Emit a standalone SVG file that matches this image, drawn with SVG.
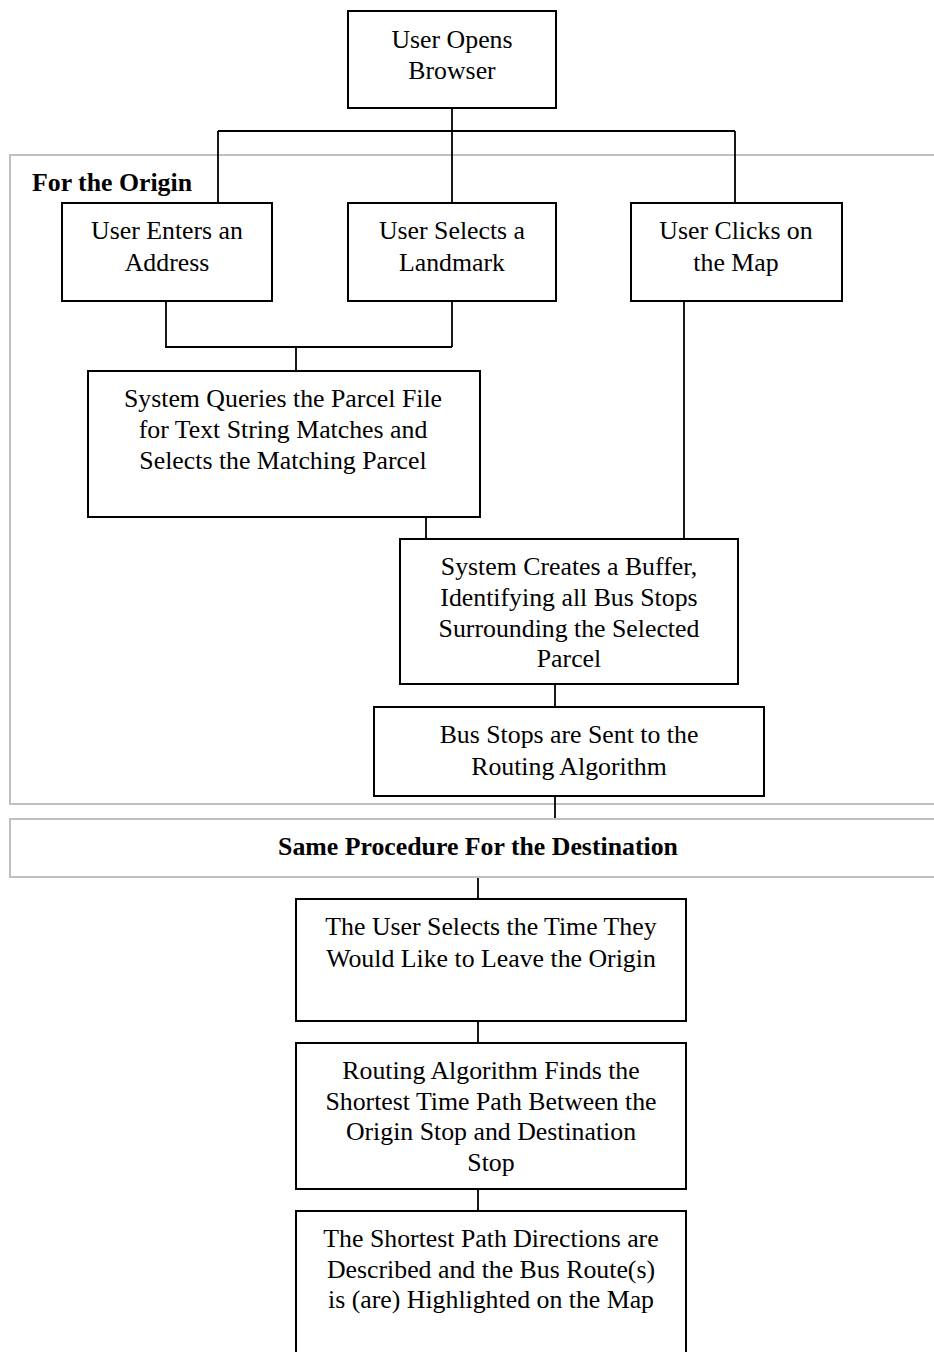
<svg xmlns="http://www.w3.org/2000/svg" width="934" height="1352" viewBox="0 0 934 1352">
<style>
.bg{fill:#ffffff}
.grp{fill:none;stroke:#c0c0c0;stroke-width:2}
.box{fill:#ffffff;stroke:#000000;stroke-width:2}
.con{fill:none;stroke:#000000;stroke-width:1.8}
text{font-family:"Liberation Serif","Times New Roman",serif;font-size:25.8px;fill:#000000;text-anchor:middle}
.b{font-weight:bold}
</style>
<rect class="bg" x="0" y="0" width="934" height="1352"/>
<g id="group-origin">
<rect class="grp" x="10" y="155" width="940" height="649"/>
<text class="b" x="32" y="190.5" style="text-anchor:start">For the Origin</text>
</g>
<g id="connectors">
<path class="con" d="M452 108 V131 M218 131 H735 M218 131 V203 M452 131 V203 M735 131 V203"/>
<path class="con" d="M166 301 V347 H452 M452 301 V347 M296 347 V371"/>
<path class="con" d="M426 517 V539"/>
<path class="con" d="M684 301 V539"/>
<path class="con" d="M555 684 V707"/>
<path class="con" d="M555 796 V819"/>
<path class="con" d="M478 877 V899"/>
<path class="con" d="M478 1021 V1043"/>
<path class="con" d="M478 1189 V1211"/>
</g>
<g id="n-open">
<rect class="box" x="348" y="11" width="208" height="97"/>
<text x="452" y="47.5">User Opens</text>
<text x="452" y="79">Browser</text>
</g>
<g id="n-address">
<rect class="box" x="62" y="203" width="210" height="98"/>
<text x="167" y="239">User Enters an</text>
<text x="167" y="270.5">Address</text>
</g>
<g id="n-landmark">
<rect class="box" x="348" y="203" width="208" height="98"/>
<text x="452" y="239">User Selects a</text>
<text x="452" y="270.5">Landmark</text>
</g>
<g id="n-map">
<rect class="box" x="631" y="203" width="211" height="98"/>
<text x="736" y="239">User Clicks on</text>
<text x="736" y="270.5">the Map</text>
</g>
<g id="n-parcel">
<rect class="box" x="88" y="371" width="392" height="146"/>
<text x="283" y="407">System Queries the Parcel File</text>
<text x="283" y="437.5">for Text String Matches and</text>
<text x="283" y="468.5">Selects the Matching Parcel</text>
</g>
<g id="n-buffer">
<rect class="box" x="400" y="539" width="338" height="145"/>
<text x="569" y="575">System Creates a Buffer,</text>
<text x="569" y="605.5">Identifying all Bus Stops</text>
<text x="569" y="636.5">Surrounding the Selected</text>
<text x="569" y="667">Parcel</text>
</g>
<g id="n-busstops">
<rect class="box" x="374" y="707" width="390" height="89"/>
<text x="569" y="743">Bus Stops are Sent to the</text>
<text x="569" y="774.5">Routing Algorithm</text>
</g>
<g id="group-destination">
<rect class="grp" x="10" y="819" width="940" height="58"/>
<text class="b" x="478" y="854.5">Same Procedure For the Destination</text>
</g>
<g id="n-time">
<rect class="box" x="296" y="899" width="390" height="122"/>
<text x="491" y="935">The User Selects the Time They</text>
<text x="491" y="966.5">Would Like to Leave the Origin</text>
</g>
<g id="n-routing">
<rect class="box" x="296" y="1043" width="390" height="146"/>
<text x="491" y="1079">Routing Algorithm Finds the</text>
<text x="491" y="1109.5">Shortest Time Path Between the</text>
<text x="491" y="1139.5">Origin Stop and Destination</text>
<text x="491" y="1170.5">Stop</text>
</g>
<g id="n-result">
<rect class="box" x="296" y="1211" width="390" height="160"/>
<text x="491" y="1247">The Shortest Path Directions are</text>
<text x="491" y="1277.5">Described and the Bus Route(s)</text>
<text x="491" y="1308">is (are) Highlighted on the Map</text>
</g>
</svg>
